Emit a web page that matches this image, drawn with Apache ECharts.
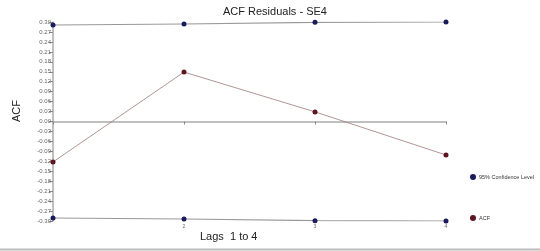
<!DOCTYPE html>
<html><head><meta charset="utf-8">
<script src="https://cdn.jsdelivr.net/npm/echarts@6/dist/echarts.min.js"></script>
<style>html,body{margin:0;padding:0;background:#fff}#c{width:540px;height:251px}</style>
</head><body><div id="c"></div>
<script>
const lags = [1, 2, 3, 4];
const upperCI = [0.291, 0.294, 0.299, 0.300];
const lowerCI = [-0.291, -0.294, -0.299, -0.300];
const acf = [-0.122, 0.149, 0.029, -0.101];
const xTickLabels = ['', '2', '3', '4'];

const pairs = (vals) => lags.map((l, i) => [l, vals[i]]);
const chart = echarts.init(document.getElementById('c'), null, {renderer: 'canvas'});
chart.setOption({
  animation: false,
  backgroundColor: '#fff',
  title: {text: 'ACF Residuals - SE4', left: 218, top: 1,
    textStyle: {fontFamily: 'Liberation Sans, Arial', fontSize: 11, fontWeight: 'normal', color: '#222'}},
  grid: {left: 53, right: 94, top: 22, bottom: 30},
  legend: {orient: 'vertical', left: 470, top: 174, itemGap: 35, itemWidth: 6, itemHeight: 6,
    icon: 'circle', padding: 0,
    textStyle: {fontFamily: 'Liberation Sans, Arial', fontSize: 5.5, color: '#333', padding: [0, 0, 0, -2]},
    data: [{name: '95% Confidence Level', itemStyle: {color: '#1b1b5c'}}, {name: 'ACF', itemStyle: {color: '#5c1521'}}]},
  xAxis: {type: 'value', min: 1, max: 4, interval: 1,
    axisLine: {onZero: true, lineStyle: {color: '#aaa', width: 1.5}},
    axisTick: {show: true, length: 3, lineStyle: {color: '#888'}},
    splitLine: {show: false},
    axisLabel: {fontSize: 5, color: '#666', margin: 3, formatter: v => xTickLabels[lags.indexOf(v)] || ''}},
  yAxis: {type: 'value', min: -0.3, max: 0.3, interval: 0.03,
    axisLine: {show: true, lineStyle: {color: '#aaa', width: 1.5}},
    axisTick: {show: true, length: 4, lineStyle: {color: '#888'}},
    splitLine: {show: false},
    axisLabel: {fontSize: 6, color: '#666', margin: 2, fontFamily: 'Liberation Sans, Arial',
      formatter: v => v.toFixed(2)}},
  graphic: [
    {type: 'text', left: 200, top: 231, style: {text: 'Lags  1 to 4', fontFamily: 'Liberation Sans, Arial', fontSize: 11, fill: '#222'}},
    {type: 'text', x: 11, y: 122, rotation: Math.PI / 2, style: {text: 'ACF', fontFamily: 'Liberation Sans, Arial', fontSize: 11, fill: '#222'}},
    {type: 'line', shape: {x1: 0, y1: 249.5, x2: 540, y2: 249.5}, style: {stroke: '#bbb', lineWidth: 2}}
  ],
  series: [
    {name: '95% Confidence Level', type: 'line', data: pairs(upperCI), symbol: 'circle', symbolSize: 5,
      itemStyle: {color: '#1b1b5c'}, lineStyle: {color: '#999', width: 1.2}},
    {name: '95% Confidence Level', type: 'line', data: pairs(lowerCI), symbol: 'circle', symbolSize: 5,
      itemStyle: {color: '#1b1b5c'}, lineStyle: {color: '#999', width: 1.2}},
    {name: 'ACF', type: 'line', data: pairs(acf), symbol: 'circle', symbolSize: 5,
      itemStyle: {color: '#5c1521'}, lineStyle: {color: '#9a7b7b', width: 0.8}}
  ]
});
</script></body></html>
